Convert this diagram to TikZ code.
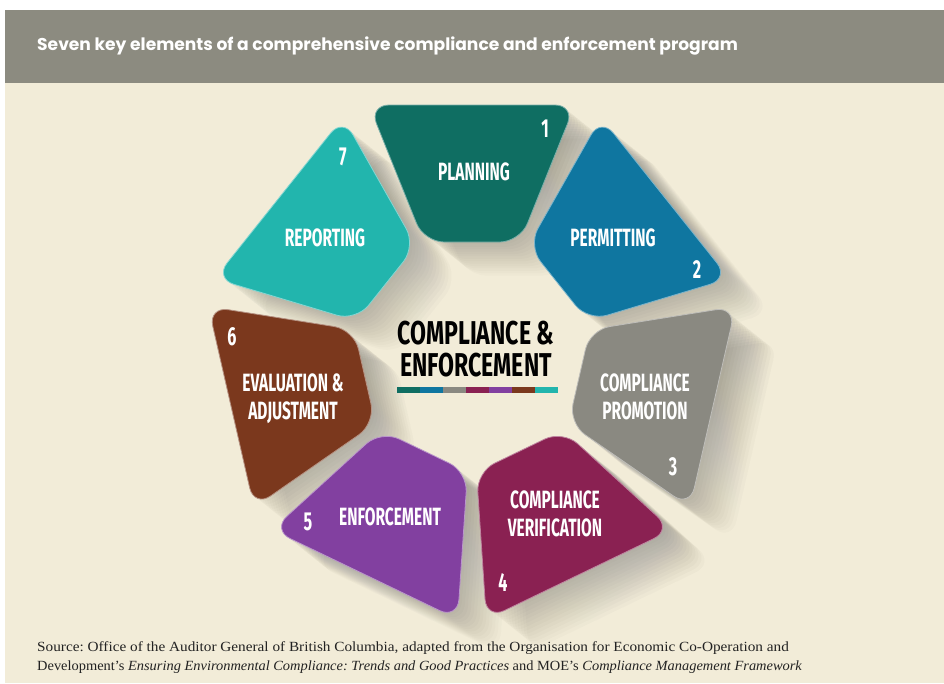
\documentclass[tikz,border=0pt]{standalone}
\usepackage{fontspec}
\setmainfont{Liberation Serif}
\newfontfamily\condf[FakeStretch=0.62]{Fira Sans}
\newfontfamily\condb[FakeStretch=0.70]{Fira Sans}
\newfontfamily\headf{Poppins}
\newfontfamily\srcfa[FakeStretch=1.09]{Liberation Serif}
\newfontfamily\srcfb[FakeStretch=1.03]{Liberation Serif}
\definecolor{bgbeige}{HTML}{F2ECD8}
\definecolor{hdrgray}{HTML}{8C8B80}
\definecolor{cplan}{HTML}{0F6E62}
\definecolor{cperm}{HTML}{0F76A0}
\definecolor{cprom}{HTML}{8A8981}
\definecolor{cveri}{HTML}{8A2152}
\definecolor{cenf}{HTML}{8240A0}
\definecolor{ceval}{HTML}{7B381D}
\definecolor{crep}{HTML}{22B5AD}
\definecolor{shade}{HTML}{B8AD8C}
\definecolor{srctext}{HTML}{222222}
\newcommand{\petalpath}{(-103,-247) -- (103,-247) -- (48,-110) -- (-48,-110) -- cycle}
\newcommand{\petal}[2]{%
  \begin{scope}[shift={(472,352)}, rotate=-#1*360/7]
    \fill[#2, rounded corners=20pt] \petalpath;
    \draw[#2!55!white, line width=0.8pt, rounded corners=20pt] \petalpath;
  \end{scope}}
\newcommand{\petalshadow}[1]{%
  \foreach \t in {3,6,...,42} {%
    \begin{scope}[shift={(472+\t,352+0.8*\t)}, rotate=-#1*360/7]
      \fill[shade, opacity=0.016, rounded corners=20pt] \petalpath;
    \end{scope}}}
\tikzset{
  lbl/.style={text=white, font=\condf\bfseries\fontsize{25}{28}\selectfont, align=center, inner sep=0pt},
  num/.style={text=white, font=\condf\bfseries\fontsize{26}{28}\selectfont, inner sep=0pt},
  ctitle/.style={font=\condb\bfseries\fontsize{33}{33}\selectfont, inner sep=0pt, text=black},
  barseg/.style={minimum width=22.57pt, minimum height=6pt, inner sep=0pt, anchor=west}
}
\begin{document}
\begin{tikzpicture}[x=1pt,y=-1pt]
\useasboundingbox (0,0) rectangle (944,683);
\fill[white] (0,0) rectangle (944,683);
\fill[bgbeige] (5,83) rectangle (944,683);
\fill[hdrgray] (5,10) rectangle (944,83);
\node[anchor=west, text=white, font=\headf\bfseries\fontsize{17.1}{20}\selectfont, inner sep=0pt] (hdr) at (37,46) {Seven key elements of a comprehensive compliance and enforcement program};
% shadows
\foreach \k in {0,...,6} {\petalshadow{\k}}
% petals
\petal{0}{cplan}
\petal{1}{cperm}
\petal{2}{cprom}
\petal{3}{cveri}
\petal{4}{cenf}
\petal{5}{ceval}
\petal{6}{crep}
% labels
\node[lbl] (plan) at (474,172) {PLANNING};
\node[lbl] (perm) at (613,238) {PERMITTING};
\node[lbl] (prom) at (645,397) {COMPLIANCE\\PROMOTION};
\node[lbl] (veri) at (555,514) {COMPLIANCE\\VERIFICATION};
\node[lbl] (enf) at (390,517) {ENFORCEMENT};
\node[lbl] (eval) at (293,399) {EVALUATION \&\\ADJUSTMENT};
\node[lbl] (rep) at (325,238) {REPORTING};
% numbers
\node[num] (n1) at (545,129) {1};
\node[num] (n2) at (697,270) {2};
\node[num] (n3) at (673,467) {3};
\node[num] (n4) at (503,582) {4};
\node[num] (n5) at (308,522) {5};
\node[num] (n6) at (232,337) {6};
\node[num] (n7) at (343,157) {7};
% centre
\node[ctitle, anchor=base] (ce1) at (476,344) {COMPLIANCE \&};
\node[ctitle, anchor=base] (ce2) at (476,376) {ENFORCEMENT};
\node[barseg, fill=cplan] (b1) at (397,390) {};
\node[barseg, fill=cperm] (b2) at (b1.east) {};
\node[barseg, fill=cprom] (b3) at (b2.east) {};
\node[barseg, fill=cveri] (b4) at (b3.east) {};
\node[barseg, fill=cenf] (b5) at (b4.east) {};
\node[barseg, fill=ceval] (b6) at (b5.east) {};
\node[barseg, fill=crep] (b7) at (b6.east) {};
% source
\node[anchor=west, text=srctext, font=\srcfa\frenchspacing\fontsize{14}{16}\selectfont, inner sep=0pt] (src1) at (37,648) {Source: Office of the Auditor General of British Columbia, adapted from the Organisation for Economic Co-Operation and};
\node[anchor=west, text=srctext, font=\srcfb\frenchspacing\fontsize{14}{16}\selectfont, inner sep=0pt] (src2) at (37,667) {Development’s \textit{Ensuring Environmental Compliance: Trends and Good Practices} and MOE’s \textit{Compliance Management Framework}};
\end{tikzpicture}
\end{document}
